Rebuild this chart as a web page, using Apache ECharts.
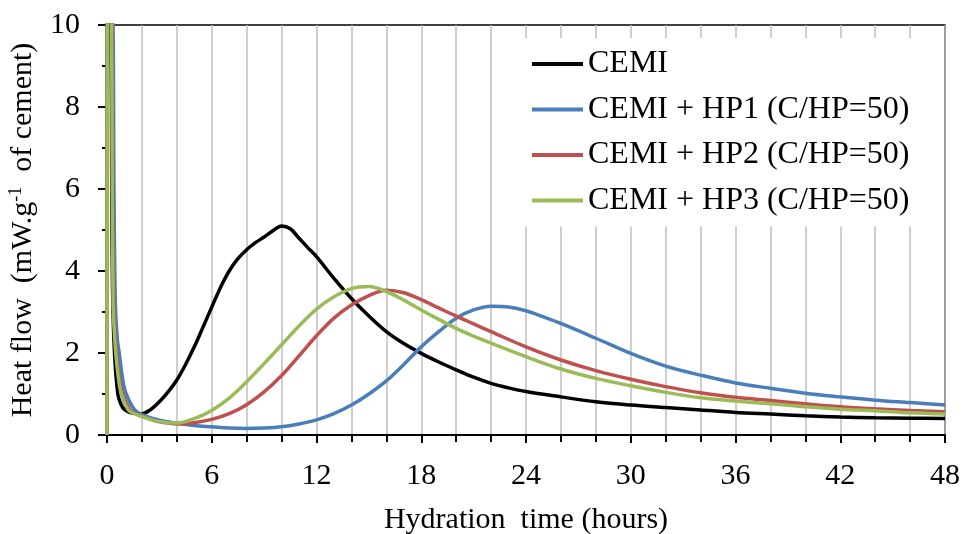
<!DOCTYPE html>
<html>
<head>
<meta charset="utf-8">
<script src="https://cdn.jsdelivr.net/npm/echarts@6/dist/echarts.min.js"></script>
<style>html,body{margin:0;padding:0;background:#fff}#c{width:966px;height:534px}</style>
</head>
<body>
<div id="c"></div>
<script>
// Series data: [hydration time (h), heat flow (mW/g)]
var cemi = [[0,0],[0.04,14],[0.22,10.5],[0.27,6],[0.32,3.5],[0.43,2],[0.62,1],[0.8,0.75],[1.0,0.62],[1.5,0.53],[2,0.52],[2.5,0.62],[3,0.81],[3.5,1.05],[4,1.34],[4.5,1.72],[5,2.15],[5.5,2.63],[6,3.12],[6.5,3.6],[7,4.0],[7.5,4.3],[8,4.52],[8.5,4.69],[9,4.83],[9.5,4.98],[10,5.1],[10.5,5.03],[11,4.8],[11.5,4.57],[12,4.35],[13,3.82],[14,3.33],[15,2.9],[16,2.52],[17,2.23],[18,1.99],[19,1.78],[20,1.59],[21,1.41],[22,1.26],[23,1.15],[24,1.06],[26,0.93],[28,0.81],[30,0.73],[32,0.67],[34,0.61],[36,0.55],[38,0.51],[40,0.47],[42,0.44],[44,0.42],[46,0.41],[48,0.40]];
var hp1 = [[0,0],[0.06,14],[0.33,10.5],[0.4,6],[0.48,3.2],[0.6,2.3],[0.7,2],[0.9,1.35],[1.1,1],[1.57,0.62],[2,0.5],[3,0.36],[4,0.29],[5,0.23],[6,0.2],[7,0.17],[8,0.16],[9,0.17],[10,0.2],[11,0.27],[12,0.37],[13,0.52],[14,0.73],[15,1.0],[16,1.32],[17,1.72],[18,2.15],[19,2.52],[20,2.85],[21,3.05],[22,3.14],[23,3.12],[24,3.03],[25,2.88],[26,2.72],[28,2.36],[30,1.99],[32,1.68],[34,1.46],[36,1.27],[38,1.14],[40,1.02],[42,0.93],[44,0.85],[46,0.79],[48,0.73]];
var hp2 = [[0,0],[0.05,14],[0.27,10.5],[0.32,6],[0.38,3.2],[0.45,2.5],[0.55,2],[0.7,1.4],[0.9,1],[1.3,0.62],[1.6,0.53],[2,0.46],[2.5,0.38],[3,0.32],[4,0.27],[5,0.30],[6,0.38],[7,0.52],[8,0.74],[9,1.05],[10,1.45],[11,1.93],[12,2.42],[13,2.85],[14,3.17],[15,3.40],[16,3.53],[17,3.47],[18,3.30],[19,3.10],[20,2.90],[21,2.71],[22,2.52],[24,2.15],[26,1.83],[28,1.57],[30,1.36],[32,1.18],[34,1.03],[36,0.92],[38,0.84],[40,0.76],[42,0.69],[44,0.64],[46,0.6],[48,0.57]];
var hp3 = [[0,0],[0.05,14],[0.25,10.5],[0.3,6],[0.35,3.2],[0.42,2.5],[0.5,2],[0.65,1.4],[0.82,1],[1.2,0.62],[1.5,0.53],[2,0.45],[2.5,0.38],[3,0.33],[4,0.29],[5,0.40],[6,0.60],[7,0.90],[8,1.30],[9,1.74],[10,2.2],[11,2.66],[12,3.07],[13,3.37],[14,3.57],[15,3.62],[16,3.50],[17,3.29],[18,3.05],[19,2.82],[20,2.6],[21,2.41],[22,2.24],[24,1.91],[26,1.61],[28,1.38],[30,1.2],[32,1.04],[34,0.91],[36,0.83],[38,0.76],[40,0.69],[42,0.63],[44,0.59],[46,0.54],[48,0.51]];
var seriesNames = ['CEMI', 'CEMI + HP1 (C/HP=50)', 'CEMI + HP2 (C/HP=50)', 'CEMI + HP3 (C/HP=50)'];
var seriesColors = ['#000000', '#4a7ebb', '#c0504d', '#9bbb59'];
var seriesData = [cemi, hp1, hp2, hp3];
var xTitle = 'Hydration  time (hours)';

var FONT = 'Liberation Serif';
var chart = echarts.init(document.getElementById('c'));
chart.setOption({
  animation: false,
  backgroundColor: '#fff',
  textStyle: { fontFamily: FONT, color: '#000' },
  grid: { left: 107, right: 21, top: 25, bottom: 99, containLabel: false, outerBoundsMode: 'none', show: true, borderColor: '#000', borderWidth: 1.5, backgroundColor: 'transparent' },
  legend: {
    orient: 'vertical', left: 520, top: 38,
    padding: [10, 12, 10, 12],
    backgroundColor: '#fff',
    icon: 'rect',
    itemWidth: 51, itemHeight: 4, itemGap: 13.5,
    textStyle: { fontFamily: FONT, fontSize: 32, color: '#000', lineHeight: 32 },
    data: seriesNames
  },
  xAxis: {
    type: 'value', min: 0, max: 48, interval: 6,
    name: xTitle, nameLocation: 'middle', nameGap: 70,
    nameTextStyle: { fontFamily: FONT, fontSize: 30, color: '#000' },
    axisLine: { show: true, onZero: false, lineStyle: { color: '#000', width: 2 } },
    axisTick: { show: true, length: 8, lineStyle: { color: '#000', width: 2 } },
    minorTick: { show: true, splitNumber: 3, length: 7, lineStyle: { color: '#000', width: 2 } },
    axisLabel: { fontFamily: FONT, fontSize: 30, color: '#000', margin: 26 },
    splitLine: { show: true, lineStyle: { color: '#bfbfbf', width: 1.5 } },
    minorSplitLine: { show: true, lineStyle: { color: '#bfbfbf', width: 1.5 } }
  },
  yAxis: {
    type: 'value', min: 0, max: 10, interval: 2,
    name: '{a|Heat flow  (mW.g}{s|-1}{a|  of cement)}', nameLocation: 'middle', nameGap: 68, nameRotate: 90,
    nameTextStyle: { fontFamily: FONT, fontSize: 30, color: '#000',
      rich: { a: { fontFamily: FONT, fontSize: 30, color: '#000' }, s: { fontFamily: FONT, fontSize: 18, color: '#000', verticalAlign: 'top', padding: [0, 0, 14, 0] } } },
    axisLine: { show: true, lineStyle: { color: '#000', width: 2 } },
    axisTick: { show: true, length: 9, lineStyle: { color: '#000', width: 2 } },
    minorTick: { show: true, splitNumber: 2, length: 5, lineStyle: { color: '#000', width: 2 } },
    axisLabel: { fontFamily: FONT, fontSize: 30, color: '#000', margin: 27 },
    splitLine: { show: false }
  },
  series: seriesData.map(function (d, i) {
    return {
      name: seriesNames[i], type: 'line', data: d,
      symbol: 'none', smooth: 0.35, clip: true,
      lineStyle: { color: seriesColors[i], width: 3.5 },
      itemStyle: { color: seriesColors[i] }
    };
  })
});
</script>
</body>
</html>
